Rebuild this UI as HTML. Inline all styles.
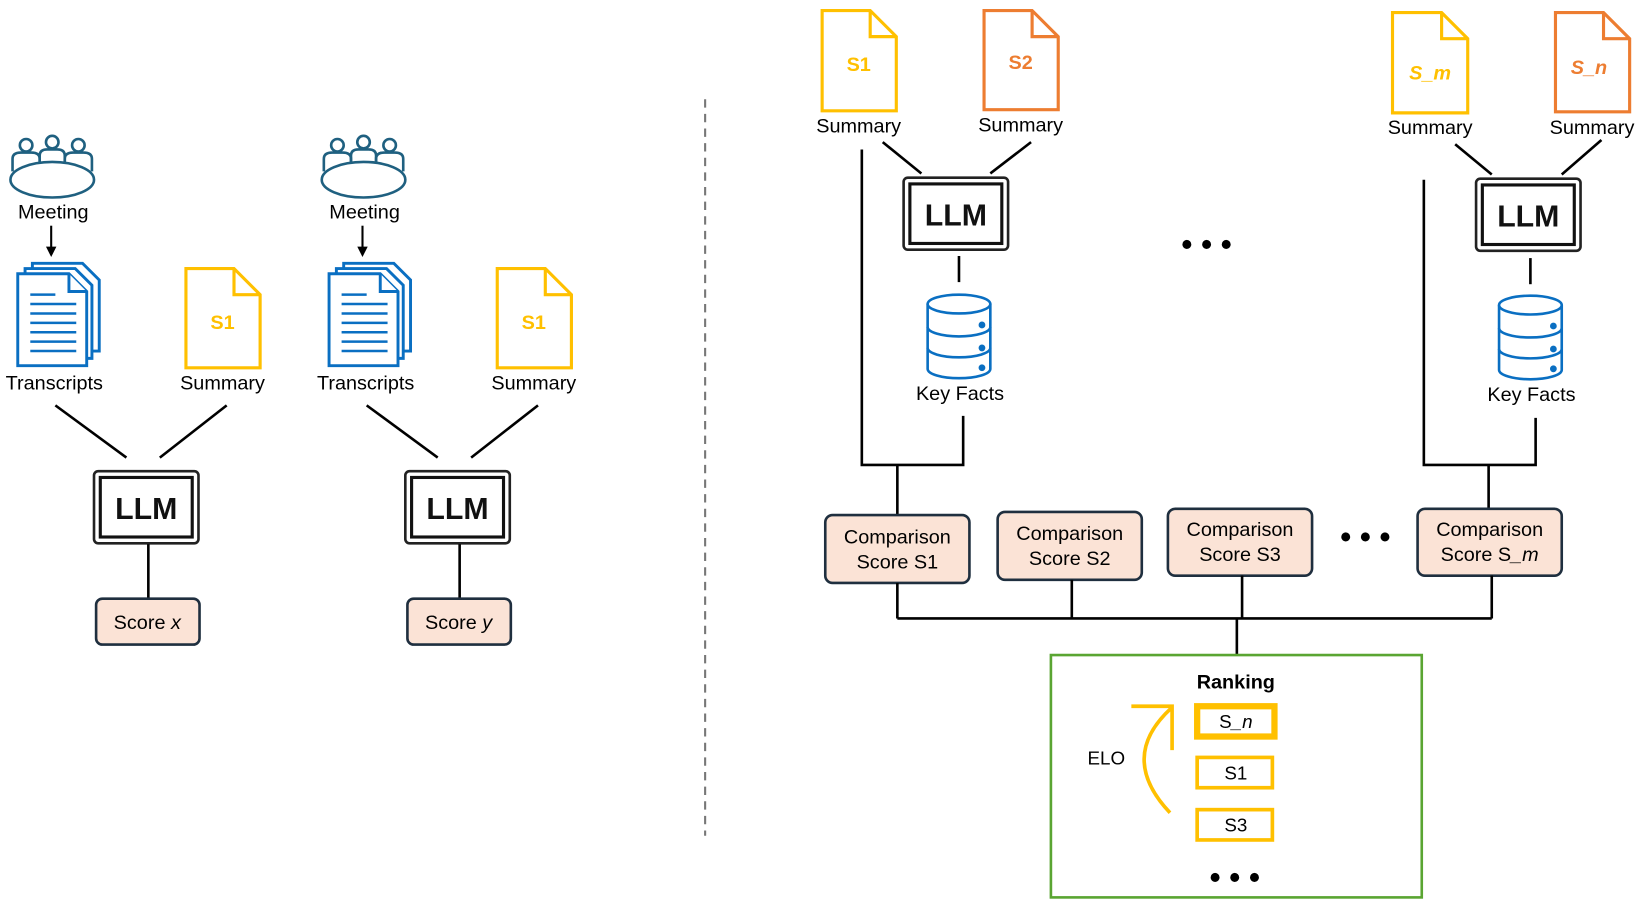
<!DOCTYPE html>
<html><head><meta charset="utf-8"><style>html,body{margin:0;padding:0;background:#fff}svg{display:block}text{font-family:"Liberation Sans",sans-serif}.lbl{font-size:19px}</style></head><body>
<svg width="1638" height="910" viewBox="0 0 1568 871" xmlns="http://www.w3.org/2000/svg">
<defs>
<g id="meet" fill="none" stroke="#1f6080" stroke-width="2.5">
<ellipse cx="0" cy="0" rx="40" ry="17" fill="#fff"/>
<circle cx="-25" cy="-33" r="6"/><circle cx="0" cy="-36" r="6"/><circle cx="25" cy="-33" r="6"/>
<path d="M-38,-8 V-20 Q-38,-26 -30,-26 H-20 Q-12,-26 -12,-20 V-16"/>
<path d="M-12,-16 V-23 Q-12,-29 -5,-29 H5 Q12,-29 12,-23 V-16"/>
<path d="M12,-16 V-20 Q12,-26 20,-26 H30 Q38,-26 38,-20 V-8"/>
</g>
<g id="trans" fill="#fff" stroke="#0a6fc2" stroke-width="2.8">
<path d="M14,0 H62 L78,16 V84 H14 Z"/>
<path d="M7,5 H55 L71,21 V91 H7 Z"/>
<path d="M0,10 H49 L66,27 V98 H0 Z"/>
<path d="M49,10 V27 H66"/>
<path d="M12,30 H36 M12,39 H56 M12,48 H56 M12,57 H56 M12,66 H56 M12,75 H56 M12,84 H56" stroke-width="2.4"/>
</g>
<g id="llm">
<rect x="0" y="0" width="100" height="69" rx="4" fill="#fff" stroke="#222" stroke-width="2.5"/>
<rect x="6" y="6" width="88" height="57" fill="none" stroke="#111" stroke-width="3"/>
<text x="50" y="46" text-anchor="middle" font-size="29" font-weight="bold" fill="#111">LLM</text>
</g>
<g id="db" fill="#fff" stroke="#0a6fc2" stroke-width="2.5">
<path d="M-30,-32 V30 A30,9 0 0 0 30,30 V-32"/>
<ellipse cx="0" cy="-32" rx="30" ry="9"/>
<path d="M-30,-10 A30,9 0 0 0 30,-10 M-30,10 A30,9 0 0 0 30,10" fill="none"/>
<circle cx="22" cy="-12" r="2" fill="#0a6fc2"/><circle cx="22" cy="10" r="2" fill="#0a6fc2"/><circle cx="22" cy="29" r="2" fill="#0a6fc2"/>
</g>
</defs>

<g id="grp">
<use href="#meet" x="50" y="172"/>
<text x="51" y="209" text-anchor="middle" class="lbl">Meeting</text>
<line x1="49" y1="216" x2="49" y2="238" stroke="#000" stroke-width="2"/>
<path d="M44,236 L54,236 L49,246 Z" fill="#000"/>
<use href="#trans" x="17" y="252"/>
<text x="52" y="373" text-anchor="middle" class="lbl">Transcripts</text>
<path d="M178,257 H224 L249,282 V352 H178 Z M224,257 V282 H249" fill="#fff" stroke="#ffc000" stroke-width="3"/>
<text x="213" y="315" text-anchor="middle" font-size="19" font-weight="bold" fill="#ffc000">S1</text>
<text x="213" y="373" text-anchor="middle" class="lbl">Summary</text>
<line x1="53" y1="388" x2="121" y2="438" stroke="#000" stroke-width="2.5"/>
<line x1="217" y1="388" x2="153" y2="438" stroke="#000" stroke-width="2.5"/>
<use href="#llm" x="90" y="451"/>
<line x1="142" y1="521" x2="142" y2="573" stroke="#000" stroke-width="2.5"/>
<rect x="92" y="573" width="99" height="44" rx="6" fill="#fbe3d6" stroke="#1f2f3f" stroke-width="2.5"/>
</g>
<text x="141" y="602" text-anchor="middle" class="lbl">Score <tspan font-style="italic">x</tspan></text>
<use href="#grp" x="298" y="0"/>
<text x="439" y="602" text-anchor="middle" class="lbl">Score <tspan font-style="italic">y</tspan></text>

<line x1="675" y1="95" x2="675" y2="800" stroke="#777" stroke-width="2" stroke-dasharray="8,6"/>

<path d="M787,10 H833 L858,35 V106 H787 Z M833,10 V35 H858" fill="#fff" stroke="#ffc000" stroke-width="3"/>
<text x="822" y="68" text-anchor="middle" font-size="19" font-weight="bold" fill="#ffc000">S1</text>
<text x="822" y="127" text-anchor="middle" class="lbl">Summary</text>
<path d="M942,10 H988 L1013,35 V105 H942 Z M988,10 V35 H1013" fill="#fff" stroke="#ed7d31" stroke-width="3"/>
<text x="977" y="66" text-anchor="middle" font-size="19" font-weight="bold" fill="#ed7d31">S2</text>
<text x="977" y="126" text-anchor="middle" class="lbl">Summary</text>
<line x1="845" y1="136" x2="882" y2="166" stroke="#000" stroke-width="2.5"/>
<line x1="987" y1="136" x2="948" y2="166" stroke="#000" stroke-width="2.5"/>
<use href="#llm" x="865" y="170"/>
<line x1="918" y1="245" x2="918" y2="270" stroke="#000" stroke-width="2.5"/>
<use href="#db" x="918" y="323"/>
<text x="919" y="383" text-anchor="middle" class="lbl">Key Facts</text>
<path d="M825,143 V445 H922 V398 M859,445 V493" fill="none" stroke="#000" stroke-width="2.5"/>

<text x="1155" y="244" text-anchor="middle" font-size="30" font-weight="bold">• • •</text>

<path d="M1333,12 H1380 L1405,37 V108 H1333 Z M1380,12 V37 H1405" fill="#fff" stroke="#ffc000" stroke-width="3"/>
<text x="1369" y="76" text-anchor="middle" font-size="19" font-weight="bold" font-style="italic" fill="#ffc000">S_m</text>
<text x="1369" y="128" text-anchor="middle" class="lbl">Summary</text>
<path d="M1489,12 H1535 L1560,37 V107 H1489 Z M1535,12 V37 H1560" fill="#fff" stroke="#ed7d31" stroke-width="3"/>
<text x="1521" y="71" text-anchor="middle" font-size="19" font-weight="bold" font-style="italic" fill="#ed7d31">S_n</text>
<text x="1524" y="128" text-anchor="middle" class="lbl">Summary</text>
<line x1="1393" y1="138" x2="1428" y2="167" stroke="#000" stroke-width="2.5"/>
<line x1="1533" y1="134" x2="1495" y2="167" stroke="#000" stroke-width="2.5"/>
<use href="#llm" x="1413" y="171"/>
<line x1="1465" y1="247" x2="1465" y2="272" stroke="#000" stroke-width="2.5"/>
<use href="#db" x="1465" y="324"/>
<text x="1466" y="384" text-anchor="middle" class="lbl">Key Facts</text>
<path d="M1363,172 V445 H1470 V400 M1425,445 V487" fill="none" stroke="#000" stroke-width="2.5"/>

<g font-size="19" text-anchor="middle">
<rect x="790" y="493" width="138" height="65" rx="7" fill="#fbe3d6" stroke="#1f2f3f" stroke-width="2.5"/>
<text x="859" y="520">Comparison</text><text x="859" y="544">Score S1</text>
<rect x="955" y="490" width="138" height="65" rx="7" fill="#fbe3d6" stroke="#1f2f3f" stroke-width="2.5"/>
<text x="1024" y="517">Comparison</text><text x="1024" y="541">Score S2</text>
<rect x="1118" y="487" width="138" height="64" rx="7" fill="#fbe3d6" stroke="#1f2f3f" stroke-width="2.5"/>
<text x="1187" y="513">Comparison</text><text x="1187" y="537">Score S3</text>
<rect x="1357" y="487" width="138" height="64" rx="7" fill="#fbe3d6" stroke="#1f2f3f" stroke-width="2.5"/>
<text x="1426" y="513">Comparison</text><text x="1426" y="537">Score S<tspan font-style="italic">_m</tspan></text>
</g>
<text x="1307" y="524" text-anchor="middle" font-size="30" font-weight="bold">• • •</text>
<path d="M859,558 V592 M1026,555 V592 M1189,551 V592 M1428,551 V592 M859,592 H1428 M1184,592 V627" fill="none" stroke="#000" stroke-width="2.5"/>

<rect x="1006" y="627" width="355" height="232" fill="#fff" stroke="#5aa532" stroke-width="2.5"/>
<text x="1183" y="659" text-anchor="middle" font-size="19" font-weight="bold">Ranking</text>
<rect x="1146" y="676" width="74" height="29" fill="#fff" stroke="#ffc000" stroke-width="6"/>
<text x="1183" y="697" text-anchor="middle" font-size="18">S<tspan font-style="italic">_n</tspan></text>
<rect x="1146" y="725" width="72" height="29" fill="#fff" stroke="#ffc000" stroke-width="3.5"/>
<text x="1183" y="746" text-anchor="middle" font-size="18">S1</text>
<rect x="1146" y="775" width="72" height="29" fill="#fff" stroke="#ffc000" stroke-width="3.5"/>
<text x="1183" y="796" text-anchor="middle" font-size="18">S3</text>
<text x="1059" y="732" text-anchor="middle" font-size="18">ELO</text>
<path d="M1120,778 Q1070,725 1121,678 M1083,676 H1122 V718" fill="none" stroke="#ffc000" stroke-width="3.5"/>
<text x="1182" y="850" text-anchor="middle" font-size="30" font-weight="bold">• • •</text>
</svg>
</body></html>
